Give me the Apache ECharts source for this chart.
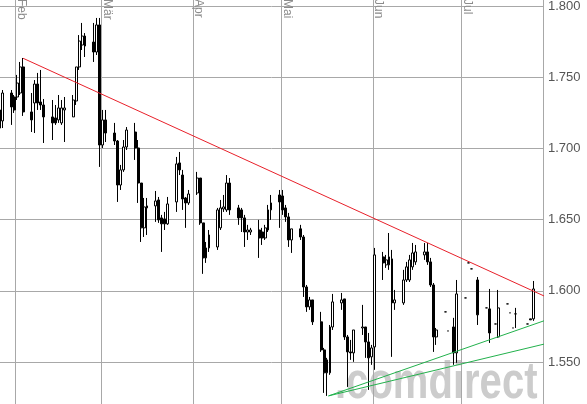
<!DOCTYPE html>
<html><head><meta charset="utf-8">
<script src="https://cdn.jsdelivr.net/npm/echarts@6/dist/echarts.min.js"></script>
<style>html,body{margin:0;padding:0;background:#fff}#c{width:587px;height:404px}</style>
</head><body><div id="c"></div>
<script>
const dates = ['2012-01-26','2012-01-27','2012-01-30','2012-01-31','2012-02-01','2012-02-02','2012-02-03',
'2012-02-06','2012-02-07','2012-02-08','2012-02-09','2012-02-10','2012-02-13','2012-02-14','2012-02-15','2012-02-16','2012-02-17',
'2012-02-20','2012-02-21','2012-02-22','2012-02-23','2012-02-24','2012-02-27','2012-02-28','2012-02-29','2012-03-01','2012-03-02',
'2012-03-05','2012-03-06','2012-03-07','2012-03-08','2012-03-09','2012-03-12','2012-03-13','2012-03-14','2012-03-15','2012-03-16',
'2012-03-19','2012-03-20','2012-03-21','2012-03-22','2012-03-23','2012-03-26','2012-03-27','2012-03-28','2012-03-29','2012-03-30',
'2012-04-02','2012-04-03','2012-04-04','2012-04-05','2012-04-06','2012-04-09','2012-04-10','2012-04-11','2012-04-12','2012-04-13',
'2012-04-16','2012-04-17','2012-04-18','2012-04-19','2012-04-20','2012-04-23','2012-04-24','2012-04-25','2012-04-26','2012-04-27',
'2012-04-30','2012-05-01','2012-05-02','2012-05-03','2012-05-04','2012-05-07','2012-05-08','2012-05-09','2012-05-10','2012-05-11',
'2012-05-14','2012-05-15','2012-05-16','2012-05-17','2012-05-18','2012-05-21','2012-05-22','2012-05-23','2012-05-24','2012-05-25',
'2012-05-28','2012-05-29','2012-05-30','2012-05-31','2012-06-01','2012-06-04','2012-06-05','2012-06-06','2012-06-07','2012-06-08',
'2012-06-11','2012-06-12','2012-06-13','2012-06-14','2012-06-15','2012-06-18','2012-06-19','2012-06-20','2012-06-21','2012-06-22',
'2012-06-25','2012-06-26','2012-06-28','2012-06-29','2012-07-02','2012-07-03','2012-07-04','2012-07-06',
'2012-07-09','2012-07-10','2012-07-12','2012-07-13','2012-07-16','2012-07-17','2012-07-18','2012-07-19','2012-07-23','2012-07-24','2012-07-25'];
const opens = [1.7270,1.7193,1.7389,1.7361,1.7361,1.7389,1.7572,
1.7256,1.7319,1.7452,1.7326,1.7305,1.7221,1.7214,1.7200,1.7179,1.7270,
1.7221,1.7333,1.7572,1.7726,1.7789,1.7747,1.7677,1.7867,1.7024,1.7200,
1.7108,1.7052,1.6743,1.6849,1.7010,1.7115,1.7003,1.6757,1.6442,1.6582,
1.6596,1.6638,1.6512,1.6505,1.6470,1.6624,1.6898,1.6813,1.6652,1.6617,
1.6687,1.6792,1.6477,1.6231,1.6301,1.6308,1.6442,1.6575,1.6568,1.6757,
1.6582,1.6568,1.6512,1.6413,1.6413,1.6427,1.6413,1.6371,1.6427,1.6568,
1.6673,1.6666,1.6582,1.6519,1.6357,1.6435,1.6378,1.6027,1.5887,1.5936,
1.5782,1.5585,1.5424,1.5424,1.5746,1.5915,1.5943,1.5676,1.5571,1.5564,
1.5739,1.5746,1.5641,1.5536,1.5606,1.6238,1.6182,1.6182,1.6224,1.5915,
1.5915,1.6076,1.6076,1.6168,1.6203,1.6252,1.6273,1.6203,1.6041,1.5676,
1.5852,1.5718,1.5746,1.5564,1.5950,1.6196,1.6154,1.6076,
1.5880,1.5873,1.5767,1.5676,1.5908,1.5845,1.5739,1.5838,1.5767,1.5803,1.5803];
const closes = [1.7143,1.7389,1.7291,1.7270,1.7459,1.7572,1.7256,
1.7200,1.7452,1.7319,1.7305,1.7221,1.7179,1.7179,1.7284,1.7284,1.7284,
1.7340,1.7572,1.7754,1.7789,1.7719,1.7677,1.7867,1.7024,1.7200,1.7108,
1.7052,1.6743,1.6849,1.7010,1.7129,1.7003,1.6757,1.6442,1.6589,1.6596,
1.6631,1.6498,1.6470,1.6470,1.6610,1.6891,1.6849,1.6645,1.6617,1.6680,
1.6792,1.6477,1.6231,1.6301,1.6392,1.6568,1.6582,1.6589,1.6757,1.6568,
1.6512,1.6512,1.6413,1.6427,1.6427,1.6371,1.6371,1.6442,1.6568,1.6617,
1.6624,1.6568,1.6519,1.6357,1.6435,1.6378,1.6027,1.5887,1.5936,1.5782,
1.5585,1.5424,1.5515,1.5746,1.5922,1.5936,1.5676,1.5571,1.5564,1.5725,
1.5746,1.5641,1.5529,1.5599,1.6252,1.6196,1.6217,1.6238,1.5915,1.5936,
1.6076,1.6168,1.6217,1.6266,1.6273,1.6273,1.6203,1.6041,1.5676,1.5725,
1.5852,1.5718,1.5564,1.5978,1.5950,1.6196,1.6154,1.5831,
1.5880,1.5704,1.5767,1.5880,1.5908,1.5845,1.5739,1.5838,1.5767,1.5796,1.6013];
const lows = [1.7108,1.7143,1.7165,1.7249,1.7340,1.7375,1.7228,
1.7115,1.7108,1.7270,1.7270,1.7038,1.7059,1.7165,1.7179,1.7165,1.7045,
1.7221,1.7305,1.7551,1.7691,1.7642,1.7607,1.7656,1.6870,1.7003,1.7045,
1.7024,1.6624,1.6708,1.6835,1.6989,1.6919,1.6617,1.6343,1.6378,1.6392,
1.6484,1.6477,1.6273,1.6427,1.6463,1.6554,1.6813,1.6568,1.6442,1.6603,
1.6673,1.6463,1.6119,1.6196,1.6273,1.6287,1.6427,1.6554,1.6554,1.6533,
1.6463,1.6413,1.6308,1.6357,1.6392,1.6231,1.6322,1.6357,1.6413,1.6498,
1.6442,1.6533,1.6484,1.6308,1.6266,1.6357,1.5957,1.5852,1.5866,1.5760,
1.5571,1.5283,1.5262,1.5410,1.5725,1.5866,1.5655,1.5325,1.5515,1.5501,
1.5690,1.5529,1.5304,1.5480,1.5445,1.6076,1.6161,1.6147,1.5536,1.5866,
1.5901,1.6062,1.6062,1.6147,1.6182,1.6217,1.6182,1.6027,1.5571,1.5620,
1.5852,1.5718,1.5480,1.5494,1.5950,1.6196,1.6154,1.5760,
1.5880,1.5634,1.5767,1.5669,1.5908,1.5845,1.5739,1.5739,1.5767,1.5796,1.5789];
const highs = [1.7305,1.7410,1.7410,1.7375,1.7516,1.7607,1.7635,
1.7389,1.7480,1.7530,1.7551,1.7347,1.7340,1.7305,1.7375,1.7340,1.7361,
1.7375,1.7572,1.7796,1.7881,1.7810,1.7881,1.7916,1.7916,1.7270,1.7270,
1.7179,1.7059,1.6884,1.7059,1.7150,1.7179,1.7059,1.6757,1.6652,1.6652,
1.6701,1.6659,1.6533,1.6554,1.6659,1.6940,1.6975,1.6849,1.6659,1.6708,
1.6835,1.6792,1.6477,1.6343,1.6427,1.6582,1.6638,1.6673,1.6813,1.6792,
1.6603,1.6582,1.6533,1.6463,1.6442,1.6498,1.6442,1.6463,1.6603,1.6673,
1.6708,1.6708,1.6603,1.6547,1.6435,1.6463,1.6392,1.6041,1.5957,1.5936,
1.5852,1.5599,1.5529,1.5760,1.5978,1.5985,1.5943,1.5690,1.5655,1.5725,
1.5901,1.5746,1.5704,1.5620,1.6301,1.6273,1.6252,1.6406,1.6287,1.6006,
1.6147,1.6203,1.6252,1.6336,1.6322,1.6336,1.6336,1.6231,1.6055,1.5739,
1.5852,1.5718,1.5810,1.6076,1.5950,1.6196,1.6154,1.6097,
1.5880,1.6013,1.5767,1.6006,1.5908,1.5845,1.5739,1.5880,1.5767,1.5803,1.6069];

const monthNames = ['Jan','Feb','Mär','Apr','Mai','Jun','Jul','Aug','Sep','Okt','Nov','Dez'];
const xStart = '2012-01-26 16:20';
const xEnd = '2012-07-28 16:20';
const yMin = 1.50, yMax = 1.80492, yStep = 0.05;

const redDates = ['2012-02-03 12:00','2012-08-20 00:00'];
const redValues = [1.7633, 1.5756];
const green1Dates = ['2012-05-17 00:00','2012-08-20 00:00'];
const green1Values = [1.5262, 1.5948];
const green2Dates = ['2012-05-17 00:00','2012-08-20 00:00'];
const green2Values = [1.5262, 1.5735];

const candles = dates.map((d,i)=>[d+' 12:00', opens[i], closes[i], lows[i], highs[i]]);
const pair = (ds,vs)=>ds.map((d,i)=>[d,vs[i]]);

const chart = echarts.init(document.getElementById('c'), null, {renderer:'canvas'});
chart.setOption({
  animation:false,
  backgroundColor:'#fff',
  grid:{left:0,right:44,top:-1,bottom:-29.2,containLabel:false,outerBoundsMode:'none'},
  graphic:[{type:'text',x:335,y:358,scaleX:0.77,z:-10,silent:true,
    style:{text:'.comdirect',fill:'#cccccc',align:'left',verticalAlign:'top',
      font:'bold 52px "Liberation Sans",Arial,sans-serif'}}],
  xAxis:{type:'time',position:'top',min:xStart,max:xEnd,splitNumber:6,
    axisLine:{show:false},axisTick:{show:false},
    splitLine:{show:true,showMinLine:false,showMaxLine:false,lineStyle:{color:'#a8a8a8',width:1}},
    axisLabel:{inside:true,rotate:90,margin:0,verticalAlign:'bottom',color:'#8c8c8c',fontSize:12,
      fontFamily:'"Liberation Sans",Arial,sans-serif',showMinLabel:false,showMaxLabel:false,
      formatter:function(v){return monthNames[new Date(v).getMonth()];}}},
  yAxis:{type:'value',position:'right',min:yMin,max:yMax,interval:yStep,scale:true,
    axisLine:{show:true,lineStyle:{color:'#a8a8a8'}},axisTick:{show:false},
    splitLine:{show:true,lineStyle:{color:'#a8a8a8',width:1}},
    axisLabel:{margin:5,color:'#555',fontSize:13,fontFamily:'"Liberation Sans",Arial,sans-serif',
      showMaxLabel:false,formatter:function(v){return v.toFixed(3);}}},
  series:[
    {type:'candlestick',data:candles,barWidth:2.4,z:3,
      itemStyle:{color:'#ffffff',color0:'#000000',borderColor:'#000000',borderColor0:'#000000',borderColorDoji:'#000000',borderWidth:1}},
    {type:'line',data:pair(redDates,redValues),clip:false,symbol:'none',z:4,lineStyle:{color:'#e8202a',width:1}},
    {type:'line',data:pair(green1Dates,green1Values),clip:false,symbol:'none',z:4,lineStyle:{color:'#22b14c',width:1}},
    {type:'line',data:pair(green2Dates,green2Values),clip:false,symbol:'none',z:4,lineStyle:{color:'#22b14c',width:1}}
  ]
});
</script></body></html>
